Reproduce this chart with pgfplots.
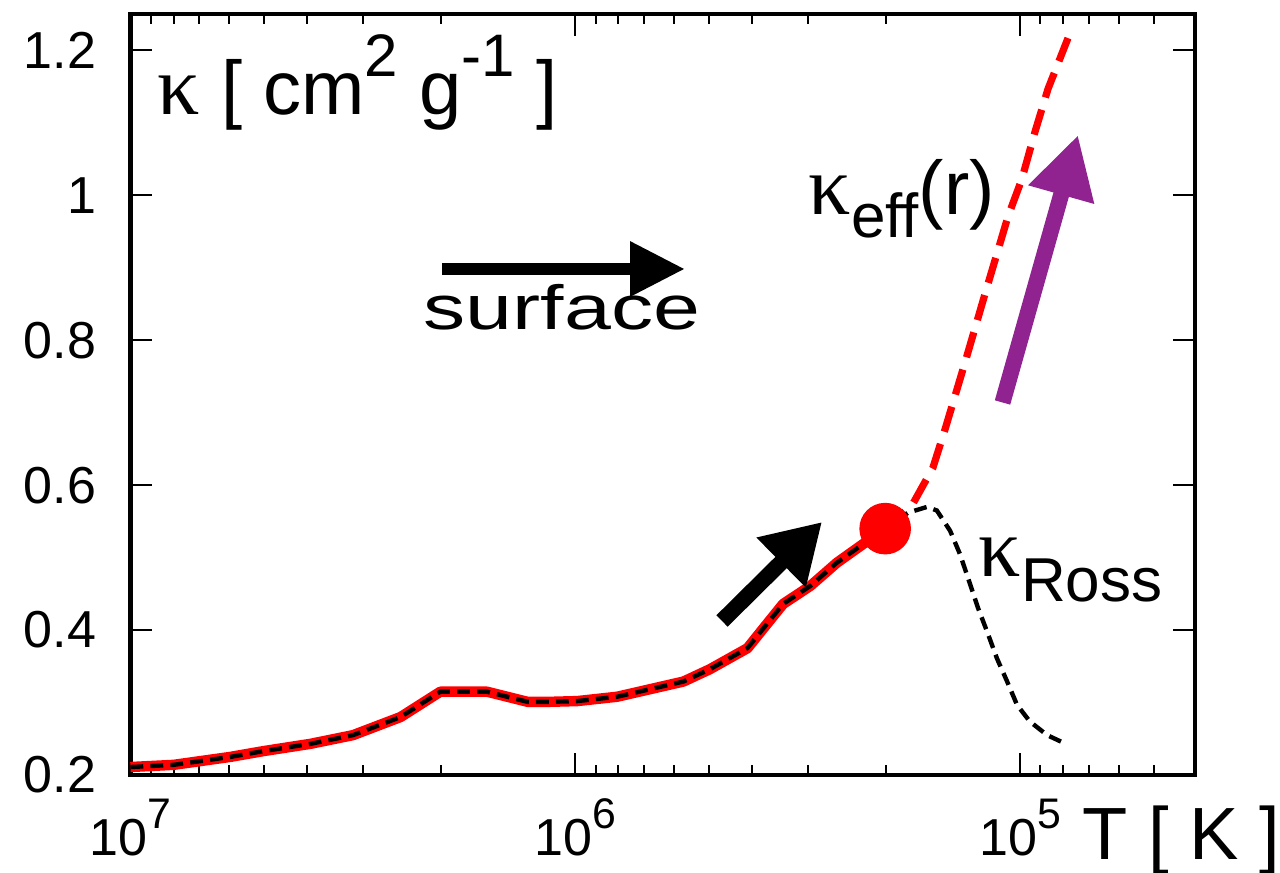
\documentclass[border=0pt]{standalone}
\usepackage{fontspec}
\setmainfont{Liberation Sans}
\newfontfamily\grk{Liberation Serif}
\newfontfamily\widefont{Liberation Sans}[FakeStretch=1.35]
\usepackage{pgfplots}
\pgfplotsset{compat=1.18}
\usetikzlibrary{arrows.meta}
\definecolor{arrowpurple}{RGB}{145,35,145}
\newcommand{\fs}[1]{\fontsize{#1}{#1}\selectfont}
\newcommand{\dec}[1]{10\raisebox{6.75pt}{\fs{10.7}#1}}

\begin{document}
\begin{tikzpicture}
\useasboundingbox (-32.625pt,-24.5pt) rectangle (287.375pt,193.75pt);
\begin{axis}[
  scale only axis, width=266.1pt, height=190.2pt,
  at={(0,0)}, anchor=south west,
  xmode=log, x dir=reverse,
  xmin=40440, xmax=1e7,
  ymin=0.2, ymax=1.25,
  xtick={1e5,1e6,1e7},
  xticklabels={{\dec{5}},{\dec{6}},{\dec{7}}},
  minor xtick={5e4,6e4,7e4,8e4,9e4,2e5,3e5,4e5,5e5,6e5,7e5,8e5,9e5,2e6,3e6,4e6,5e6,6e6,7e6,8e6,9e6},
  ytick={0.2,0.4,0.6,0.8,1,1.2},
  tick align=inside,
  major tick length=5.5pt, minor tick length=2.5pt,
  tick style={black, line width=0.5pt},
  axis line style={line width=1.1pt},
  tick label style={font=\fs{13}},
  /pgf/number format/assume math mode=true,
  xticklabel style={inner sep=0pt, yshift=-5.75pt},
  yticklabel style={inner sep=0pt, xshift=-8.4pt},
  clip=false,
]
% kappa_eff, solid part (inner region)
\addplot[red, line width=2.6pt, line join=round] coordinates {
  (1.0e7,0.211) (8.0e6,0.214) (5.96e6,0.225) (5.02e6,0.233) (3.94e6,0.243)
  (3.16e6,0.255) (2.47e6,0.280) (2.01e6,0.315) (1.58e6,0.315) (1.28e6,0.301)
  (1.14e6,0.301) (9.9e5,0.302) (8.05e5,0.308) (5.71e5,0.329) (4.98e5,0.346)
  (4.10e5,0.375) (3.78e5,0.402) (3.41e5,0.436) (2.96e5,0.461) (2.58e5,0.493)
  (2.25e5,0.519) (2.01e5,0.540)
};
% kappa_eff, dashed part
\addplot[red, line width=1.8pt, dash pattern=on 6.5pt off 3.2pt] coordinates {
  (201000,0.540) (175000,0.572) (157000,0.624) (147600,0.676) (133000,0.769)
  (120000,0.863) (106400,0.971) (99100,1.022) (92500,1.088) (86500,1.147)
  (78000,1.217)
};
% kappa_Ross
\addplot[black, line width=1.1pt, dash pattern=on 3.2pt off 1.8pt] coordinates {
  (1.0e7,0.211) (8.0e6,0.214) (5.96e6,0.225) (5.02e6,0.233) (3.94e6,0.243)
  (3.16e6,0.255) (2.47e6,0.280) (2.01e6,0.315) (1.58e6,0.315) (1.28e6,0.301)
  (1.14e6,0.301) (9.9e5,0.302) (8.05e5,0.308) (5.71e5,0.329) (4.98e5,0.346)
  (4.10e5,0.375) (3.78e5,0.402) (3.41e5,0.436) (2.96e5,0.461) (2.58e5,0.493)
  (2.25e5,0.519) (2.01e5,0.540)
  (178600,0.562) (161800,0.570) (153800,0.565) (143600,0.537) (136500,0.505)
  (130900,0.472) (124200,0.430) (118600,0.398) (112700,0.361) (106900,0.329)
  (101600,0.297) (95100,0.274) (86900,0.255) (78300,0.242)
};
\addplot[only marks, red, mark=*, mark size=6.25pt] coordinates {(201000,0.540)};
\end{axis}

% annotations, in reference pixel coordinates
\begin{scope}[xshift=-32.625pt, yshift=193.75pt, x=0.25pt, y=-0.25pt]
\node[anchor=base west, inner sep=0pt] at (157,115)
  {\fs{19}{\grk\fs{21}κ} [ cm\raisebox{9.5pt}{\fs{15}2} g\raisebox{9.5pt}{\fs{15}-1} ]};
\node[anchor=base west, inner sep=0pt] at (423,330) {\widefont\fs{15.6}surface};
\node[anchor=base west, inner sep=0pt] at (808,215)
  {\fs{19}{\grk\fs{21}κ}\raisebox{-5.75pt}{\fs{15.5}eff}(r)};
\node[anchor=base west, inner sep=0pt] at (978,577)
  {\fs{19}{\grk\fs{21}κ}\raisebox{-6.25pt}{\fs{15.5}Ross}};
\node[anchor=base west, inner sep=0pt] at (1082,860) {\fs{18.5}T [ K ]};

\draw[line width=3.1pt, -{Triangle[length=13.75pt,width=13pt]}] (442,269) -- (685,269);
\draw[line width=4pt, -{Triangle[length=14.4pt,width=16.5pt]}] (722,621) -- (822,522);
\draw[arrowpurple, line width=4pt, -{Triangle[length=15.5pt,width=16pt]}] (1002.5,402.5) -- (1078,135);
\end{scope}
\end{tikzpicture}
\end{document}
